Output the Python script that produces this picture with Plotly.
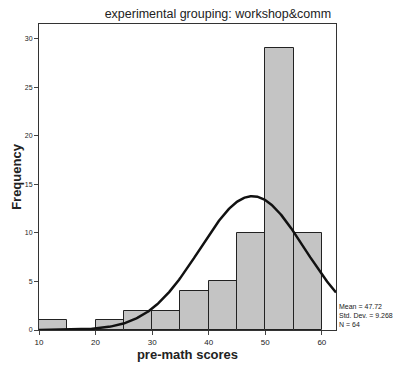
import numpy as np
import plotly.graph_objects as go

bin_starts = [10, 15, 20, 25, 30, 35, 40, 45, 50, 55]
counts = [1, 0, 1, 2, 2, 4, 5, 10, 29, 10]
bin_width = 5
mean = 47.72
std = 9.268
n = 64
x_ticks = [10, 20, 30, 40, 50, 60]
y_ticks = [0, 5, 10, 15, 20, 25, 30]

centers = [s + bin_width / 2 for s in bin_starts]
xs = np.linspace(10, 62.5, 300)
ys = n * bin_width / (std * np.sqrt(2 * np.pi)) * np.exp(-0.5 * ((xs - mean) / std) ** 2)

fig = go.Figure()
fig.add_trace(go.Bar(x=centers, y=counts, width=bin_width,
                     marker=dict(color="#c4c4c4", line=dict(color="#222", width=1)),
                     showlegend=False))
fig.add_trace(go.Scatter(x=xs, y=ys, mode="lines", line=dict(color="#111", width=2.5),
                         showlegend=False))

fig.update_layout(
    width=415, height=370,
    margin=dict(l=39, r=79, t=24, b=40, autoexpand=False),
    paper_bgcolor="white", plot_bgcolor="white",
    bargap=0,
    font=dict(family="Liberation Sans, Arial, sans-serif", color="#222"),
    title=dict(text="experimental grouping: workshop&comm", xref="container", x=0.525, xanchor="center",
               yref="container", y=0.962, yanchor="middle", font=dict(size=12.5)),
)
fig.update_xaxes(range=[10, 62.5], tickvals=x_ticks, ticks="outside", ticklen=4,
                 showline=True, linecolor="#333", linewidth=1, mirror=True, automargin=False,
                 showgrid=False, zeroline=False, tickfont=dict(size=8),
                 title=dict(text="<b>pre-math scores</b>", font=dict(size=13), standoff=4))
fig.update_yaxes(range=[0, 31.5], tickvals=y_ticks, ticks="outside", ticklen=4,
                 showline=True, linecolor="#333", linewidth=1, mirror=True, automargin=False,
                 showgrid=False, zeroline=False, tickfont=dict(size=7),
                 title=dict(text="<b>Frequency</b>", font=dict(size=13), standoff=0))
fig.add_annotation(xref="paper", yref="paper", x=1.005, y=0.0, xanchor="left", yanchor="bottom",
                   text=f"Mean = {mean}<br>Std. Dev. = {std}<br>N = {n}", showarrow=False,
                   align="left", font=dict(size=7, color="#222"))
fig.write_html("out.html", config={"displayModeBar": False},
               post_script="document.body.style.margin='0';")
